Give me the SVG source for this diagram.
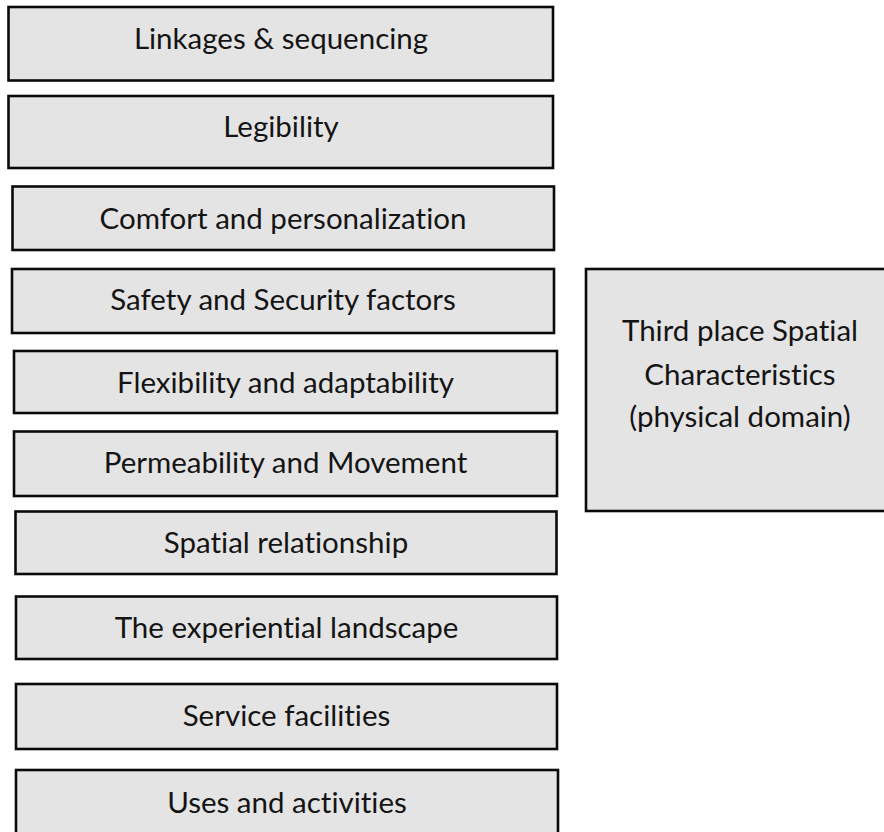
<svg xmlns="http://www.w3.org/2000/svg" width="884" height="832" viewBox="0 0 884 832">
  <style>
    .box { fill: #e4e4e4; stroke: #0a0a0a; stroke-width: 2.6; }
    .lbl { font-family: Lato, "Open Sans", "Liberation Sans", sans-serif; font-size: 29.5px; fill: #141414; text-anchor: middle; font-variant-ligatures: none; font-feature-settings: "liga" 0, "dlig" 0; }
  </style>
  <rect width="884" height="832" fill="#ffffff"/>

  <!-- characteristic boxes, left column -->
  <g id="linkages">
    <rect class="box" x="8.5" y="7" width="544.5" height="73.5"/>
    <text class="lbl" x="281" y="49">Linkages &amp; sequencing</text>
  </g>
  <g id="legibility">
    <rect class="box" x="8.5" y="96" width="544.5" height="72"/>
    <text class="lbl" x="281" y="137">Legibility</text>
  </g>
  <g id="comfort">
    <rect class="box" x="12.5" y="186.5" width="541.5" height="63.5"/>
    <text class="lbl" x="283" y="229">Comfort and personalization</text>
  </g>
  <g id="safety">
    <rect class="box" x="12" y="269" width="542" height="64"/>
    <text class="lbl" x="283" y="310">Safety and Security factors</text>
  </g>
  <g id="flexibility">
    <rect class="box" x="14" y="351" width="543" height="62"/>
    <text class="lbl" x="285.5" y="393">Flexibility and adaptability</text>
  </g>
  <g id="permeability">
    <rect class="box" x="14" y="431.5" width="543" height="64.5"/>
    <text class="lbl" x="285.5" y="473">Permeability and Movement</text>
  </g>
  <g id="spatial-relationship">
    <rect class="box" x="15.5" y="511.5" width="541" height="62.5"/>
    <text class="lbl" x="286" y="553">Spatial relationship</text>
  </g>
  <g id="experiential-landscape">
    <rect class="box" x="16" y="596.5" width="541" height="62.5"/>
    <text class="lbl" x="286.5" y="638">The experiential landscape</text>
  </g>
  <g id="service-facilities">
    <rect class="box" x="16" y="684" width="541" height="65"/>
    <text class="lbl" x="286.5" y="726">Service facilities</text>
  </g>
  <g id="uses-activities">
    <rect class="box" x="16" y="770" width="542" height="70"/>
    <text class="lbl" x="287" y="813">Uses and activities</text>
  </g>

  <!-- summary box, right side -->
  <g id="third-place">
    <rect class="box" x="586" y="269" width="308" height="242"/>
    <text class="lbl" x="740" y="341">Third place Spatial</text>
    <text class="lbl" x="740" y="385">Characteristics</text>
    <text class="lbl" x="740" y="427">(physical domain)</text>
  </g>

  <g id="connectors"></g>
</svg>
